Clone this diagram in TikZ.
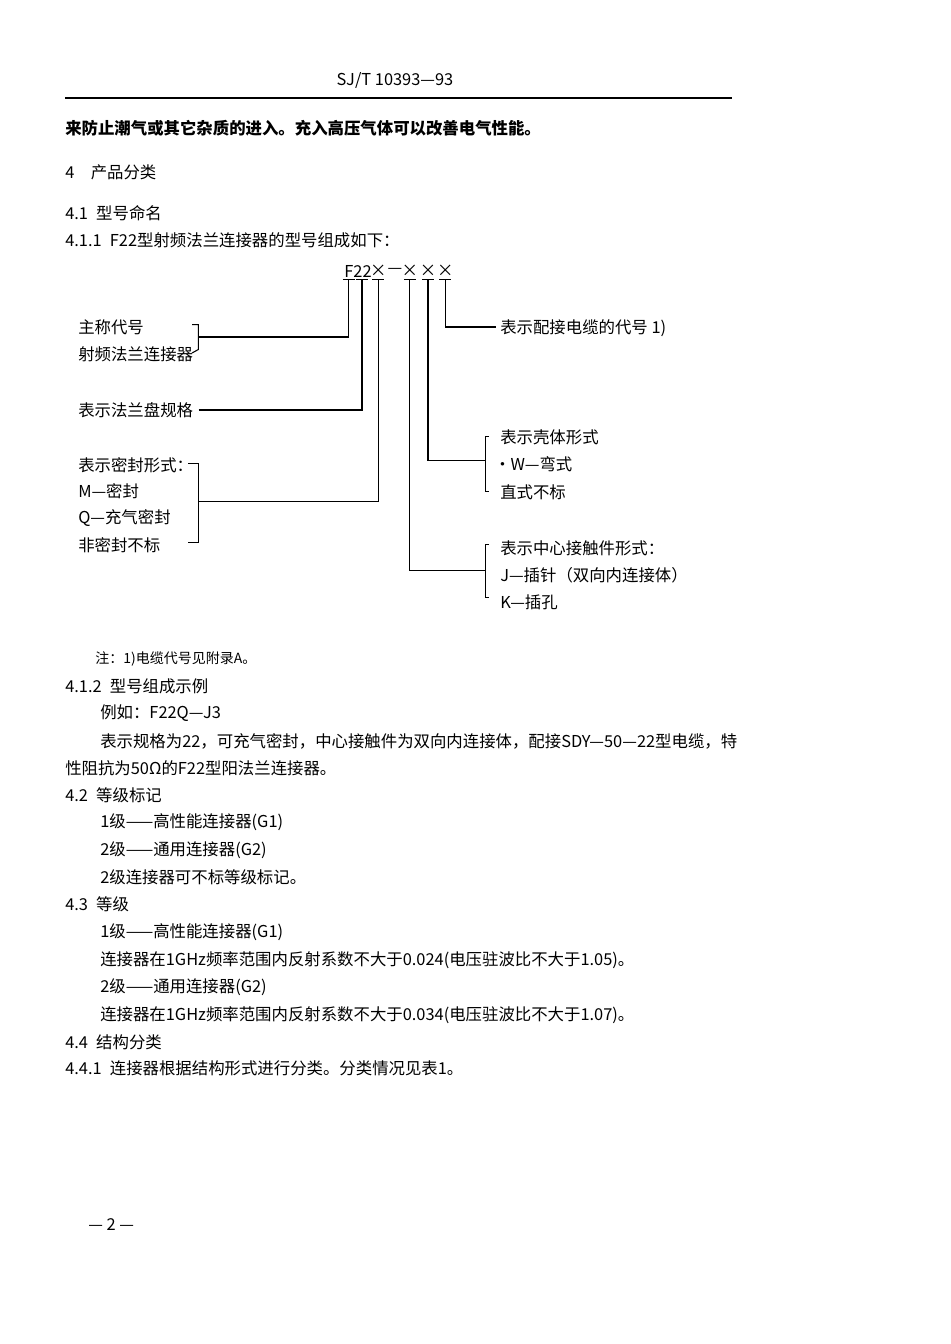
\documentclass[tikz,border=0pt]{standalone}
\usepackage{fontspec}
\setmainfont{Noto Sans CJK SC}
\begin{document}
\begin{tikzpicture}[x=0.75pt,y=-0.75pt,font=\fontsize{12.3}{14}\selectfont,
  t/.style={anchor=west,inner sep=0pt},
  ln/.style={line width=0.8pt}]
\useasboundingbox (0,0) rectangle (950,1344);
\node at (395,80) {SJ/T 10393—93};
\draw[line width=0.9pt] (65,98) -- (732,98);
\node[t] (l1) at (65,128) {\bfseries 来防止潮气或其它杂质的进入。充入高压气体可以改善电气性能。};
\node[t] (l2) at (65,172) {4\quad 产品分类};
\node[t] (l3) at (65,213) {4.1\enspace 型号命名};
\node[t] (l4) at (65,240) {4.1.1\enspace F22型射频法兰连接器的型号组成如下：};
% code
\node (F) at (358,271) {F22};
\node (x1) at (378.4,271) {×};
\node (d) at (395,271) {—};
\node (x2) at (409.8,271) {×};
\node (x3) at (428,271) {×};
\node (x4) at (445.3,271) {×};
\foreach \p in {348.6,362,378.4,409.8,428,445.3}{\draw[ln] (\p-6,279.5) -- (\p+6,279.5);}
% left labels
\node[t] (a1) at (78,327) {主称代号};
\node[t] (a2) at (78,354) {射频法兰连接器};
\node[t] (b) at (78,410) {表示法兰盘规格};
\node[t] (c1) at (78,465) {表示密封形式：};
\node[t] (c2) at (78,491) {M—密封};
\node[t] (c3) at (78,518) {Q—充气密封};
\node[t] (c4) at (78,545) {非密封不标};
% right labels
\node[t] (e) at (500,328) {表示配接电缆的代号 1)};
\node[t] (f1) at (500,437) {表示壳体形式};
\node[t] (f2) at (494,464) {·W—弯式};
\node[t] (f3) at (500,492) {直式不标};
\node[t] (g1) at (500,548) {表示中心接触件形式：};
\node[t] (g2) at (500,575) {J—插针（双向内连接体）};
\node[t] (g3) at (500,602) {K—插孔};
% connectors
\draw[ln] (192,324.7) -- (198.4,324.7) -- (198.4,349.5) -- (192,353);
\draw[ln] (198.4,337) -- (348.6,337) -- (348.6,279.5);
\draw[ln] ([xshift=4pt]b.east) -| (362,279.5);
\draw[ln] (188,463.8) -- (198.4,463.8) -- (198.4,542.6) -- (188,542.6);
\draw[ln] (198.4,501.8) -- (378.4,501.8) -- (378.4,279.5);
\draw[ln] (445.3,279.5) -- (445.3,327) -- (496,327);
\draw[ln] (428,279.5) -- (428,460.4) -- (485.3,460.4);
\draw[ln] (489,436.6) -- (485.3,436.6) -- (485.3,491.9) -- (489,491.9);
\draw[ln] (409.8,279.5) -- (409.8,570.7) -- (485.3,570.7);
\draw[ln] (489,544.9) -- (485.3,544.9) -- (485.3,597.9) -- (489,597.9);
% body text
\node[t,font=\fontsize{10.5}{12}\selectfont] at (95,659) {注：1)电缆代号见附录A。};
\node[t] at (65,686) {4.1.2\enspace 型号组成示例};
\node[t] at (100,713) {例如：F22Q—J3};
\node[t] at (100,741) {表示规格为22，可充气密封，中心接触件为双向内连接体，配接SDY—50—22型电缆，特};
\node[t] at (65,768) {性阻抗为50Ω的F22型阳法兰连接器。};
\node[t] at (65,795) {4.2\enspace 等级标记};
\node[t] at (100,822) {1级——高性能连接器(G1)};
\node[t] at (100,850) {2级——通用连接器(G2)};
\node[t] at (100,877) {2级连接器可不标等级标记。};
\node[t] at (65,904) {4.3\enspace 等级};
\node[t] at (100,932) {1级——高性能连接器(G1)};
\node[t] at (100,960) {连接器在1GHz频率范围内反射系数不大于0.024(电压驻波比不大于1.05)。};
\node[t] at (100,987) {2级——通用连接器(G2)};
\node[t] at (100,1015) {连接器在1GHz频率范围内反射系数不大于0.034(电压驻波比不大于1.07)。};
\node[t] at (65,1042) {4.4\enspace 结构分类};
\node[t] at (65,1068) {4.4.1\enspace 连接器根据结构形式进行分类。分类情况见表1。};
\node[t] at (88,1225) {— 2 —};
\end{tikzpicture}
\end{document}
